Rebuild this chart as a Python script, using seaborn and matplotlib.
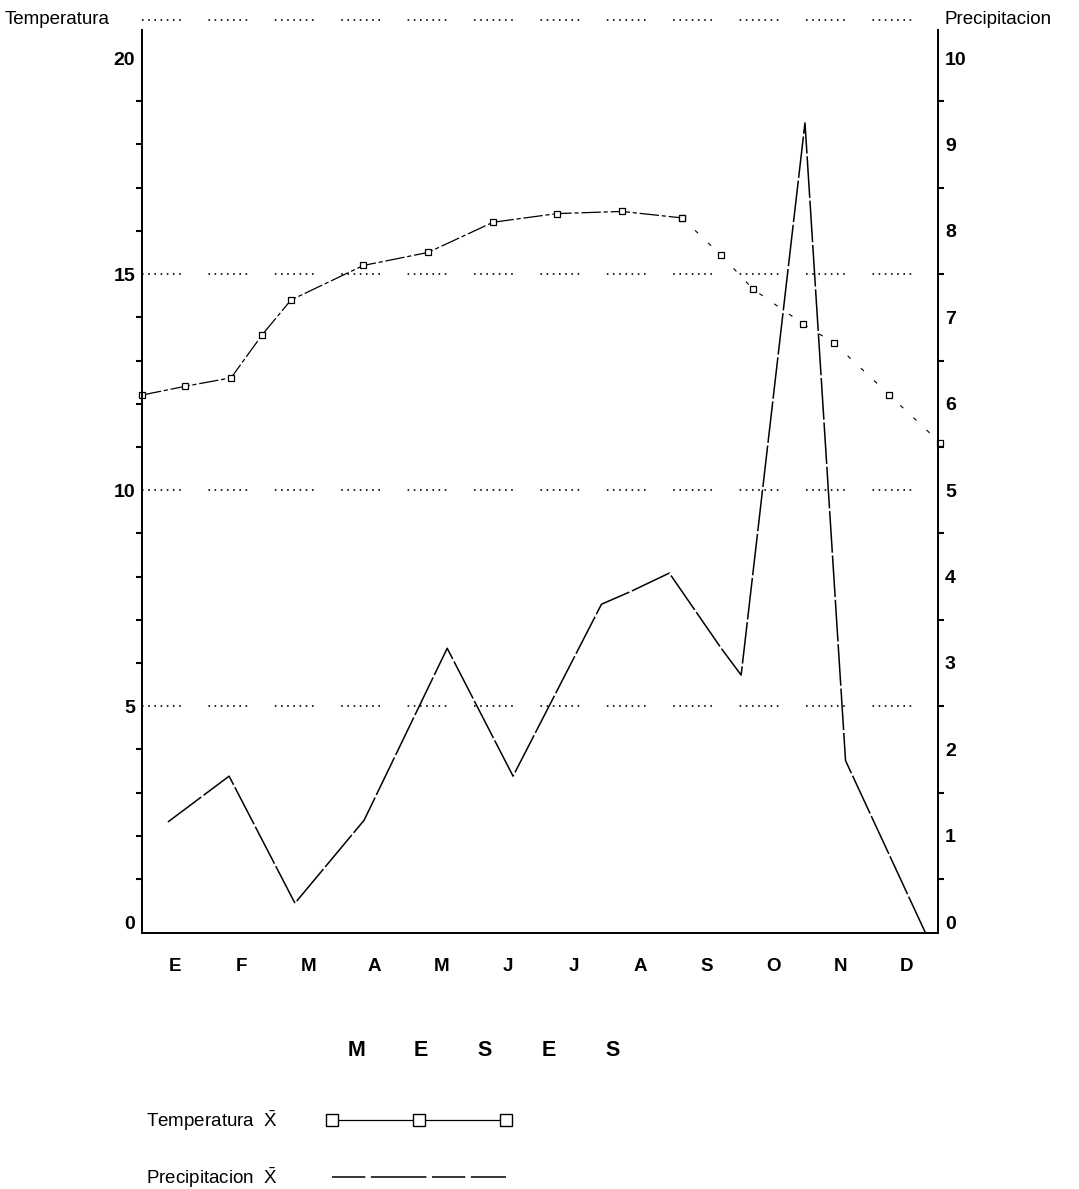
import pandas as pd
import matplotlib
matplotlib.use('Agg')
import matplotlib.pyplot as plt
import seaborn as sns
from matplotlib.lines import Line2D
from matplotlib.ticker import FixedLocator

# datos
meses = ['E', 'F', 'M', 'A', 'M', 'J', 'J', 'A', 'S', 'O', 'N', 'D']

temp_x = [-0.5, 0.14, 0.84, 1.31, 1.74, 2.83, 3.80, 4.78, 5.74, 6.72, 7.62,
          8.20, 8.69, 9.44, 9.91, 10.74, 11.5]
temp_y = [12.2, 12.4, 12.6, 13.6, 14.4, 15.2, 15.5, 16.2, 16.4, 16.45, 16.3,
          15.45, 14.65, 13.85, 13.4, 12.2, 11.1]

prec_x = [-0.11, 0.81, 1.80, 2.84, 4.09, 5.08, 6.41, 6.83, 7.43, 8.21, 8.51,
          9.47, 10.08, 11.28]
prec_y = [1.16, 1.69, 0.22, 1.18, 3.17, 1.69, 3.68, 3.82, 4.04, 3.17, 2.86,
          9.25, 1.87, -0.12]

temp_ticks = [0, 5, 10, 15, 20]
prec_ticks = list(range(11))
lineas_guia = [5, 10, 15, 20.88]

sns.set_theme(style='white')
plt.rcParams['font.family'] = ['Liberation Sans', 'DejaVu Sans']
plt.rcParams['mathtext.fontset'] = 'custom'
plt.rcParams['mathtext.rm'] = 'Liberation Sans'
plt.rcParams['lines.scale_dashes'] = False
plt.rcParams['axes.edgecolor'] = 'black'
plt.rcParams['xtick.color'] = 'black'
plt.rcParams['ytick.color'] = 'black'
plt.rcParams['text.color'] = 'black'

punteado = (0, (1.15, 3.31) * 6 + (1.15, 19.9))

fig = plt.figure(figsize=(10.79, 11.89), dpi=100)
ax = fig.add_axes([0.1316, 0.2153, 0.7377, 0.7704])
ax2 = ax.twinx()

# temperatura (eje izquierdo), tramo continuo y tramo cortado
df_t = pd.DataFrame({'mes': temp_x, 'temp': temp_y})
corte = 10
sns.lineplot(data=df_t.iloc[:corte + 1], x='mes', y='temp', ax=ax,
             estimator=None, sort=False, color='black', lw=0.9,
             linestyle=(0, (14, 2, 3, 2)), marker='s', ms=4.5,
             mfc='white', mec='black', mew=0.9, clip_on=False)
sns.lineplot(data=df_t.iloc[corte:], x='mes', y='temp', ax=ax,
             estimator=None, sort=False, color='black', lw=0.8,
             linestyle=(0, (3, 10)), marker='s', ms=4.5,
             mfc='white', mec='black', mew=0.9, clip_on=False)

# precipitacion (eje derecho)
df_p = pd.DataFrame({'mes': prec_x, 'prec': prec_y})
sns.lineplot(data=df_p, x='mes', y='prec', ax=ax2, estimator=None,
             sort=False, color='black', lw=1.1, linestyle=(0, (30, 2)),
             clip_on=False)

for g in lineas_guia:
    ax.axhline(g, xmin=0, xmax=0.977, color='black', lw=1.2,
               linestyle=punteado, clip_on=False)

ax.set_xlim(-0.5, 11.47)
ax.set_ylim(-0.25, 20.95)
ax2.set_ylim(-0.125, 10.475)

ax.set_xticks(range(len(meses)))
ax.set_xticklabels(meses, fontsize=13.5, fontweight='bold')
ax.tick_params(axis='x', length=0, pad=18)

ax.set_yticks(temp_ticks)
ax.yaxis.set_minor_locator(FixedLocator([v for v in range(21) if v % 5]))
ax.tick_params(axis='y', which='major', length=0, pad=5, labelsize=14)
ax.tick_params(axis='y', which='minor', length=4, width=1.5, direction='out')
for lbl in ax.get_yticklabels():
    lbl.set_fontweight('bold')

ax2.set_yticks(prec_ticks)
ax2.yaxis.set_minor_locator(FixedLocator([v + 0.5 for v in range(10)]))
ax2.tick_params(axis='y', which='major', length=0, pad=5, labelsize=14)
ax2.tick_params(axis='y', which='minor', length=4, width=1.5, direction='out')
for lbl in ax2.get_yticklabels():
    lbl.set_fontweight('bold')

ax.set_xlabel('')
ax.set_ylabel('')
ax2.set_ylabel('')

for s in ['top', 'right']:
    ax.spines[s].set_visible(False)
for s in ['top', 'left', 'bottom']:
    ax2.spines[s].set_visible(False)
ax.spines['left'].set_bounds(-0.25, 20.65)
ax2.spines['right'].set_bounds(-0.125, 10.325)
for s in [ax.spines['left'], ax.spines['bottom'], ax2.spines['right']]:
    s.set_linewidth(1.4)
    s.set_color('black')

fig.text(5 / 1079, 1 - 20 / 1189, 'Temperatura', fontsize=13.5,
         ha='left', va='center')
fig.text(945 / 1079, 1 - 20 / 1189, 'Precipitacion', fontsize=13.5,
         ha='left', va='center')

for i, letra in enumerate('MESES'):
    fig.text((357 + 64 * i) / 1079, 1 - 1050 / 1189, letra, fontsize=15.5,
             fontweight='bold', ha='center', va='center')

h_temp = Line2D([], [], color='black', lw=0.9, marker='s', ms=8,
                mfc='white', mec='black', mew=1.0)
h_prec = Line2D([], [], color='black', lw=1.1, linestyle=(0, (24, 4, 40, 4)))
fig.legend([h_temp, h_prec],
           ['Temperatura  $\\bar{\\mathrm{X}}$',
            'Precipitacion  $\\bar{\\mathrm{X}}$'],
           loc='upper left', bbox_to_anchor=(146 / 1079, 1 - 1108 / 1189),
           frameon=False, markerfirst=False, numpoints=3, handlelength=9.85,
           handletextpad=2.6, labelspacing=1.75, fontsize=13.5,
           borderpad=0, borderaxespad=0)

fig.savefig('out.png', dpi=100)
